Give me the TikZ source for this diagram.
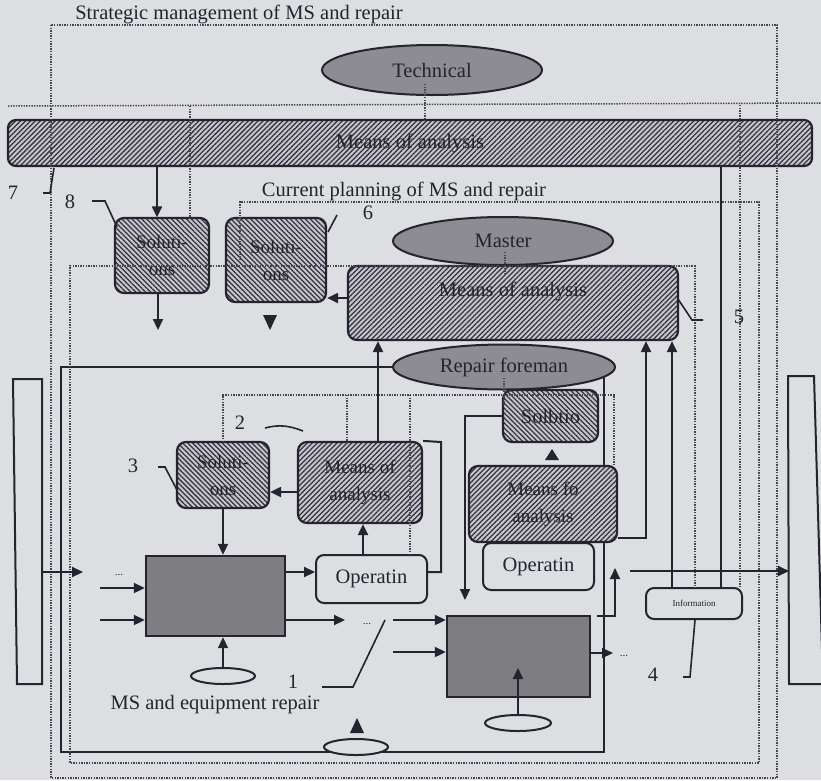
\documentclass[tikz,border=0pt]{standalone}
\usepackage{fontspec}
\setmainfont{Liberation Serif}
\usetikzlibrary{shapes.geometric,arrows.meta,patterns.meta}
\definecolor{paper}{RGB}{221,222,226}
\definecolor{ink}{RGB}{36,36,48}
\definecolor{dotink}{RGB}{70,70,82}
\definecolor{ovalgray}{RGB}{140,140,146}
\definecolor{blockgray}{RGB}{126,126,130}
\definecolor{hatchbg}{RGB}{198,198,203}
\definecolor{hatchink}{RGB}{50,50,62}
\pgfdeclarelayer{paperlayer}
\pgfdeclarelayer{under}
\pgfsetlayers{paperlayer,under,main}
\tikzset{
  wire/.style={draw=ink,line width=2pt},
  arr/.style={wire,-{Triangle[length=11pt,width=10pt]}},
  leader/.style={draw=ink,line width=1.6pt},
  dotline/.style={draw=dotink,line width=1.5pt,dash pattern=on 1.4pt off 1.2pt},
  oval/.style={ellipse,draw=ink,line width=2pt,fill=ovalgray,inner sep=0pt,text=ink},
  ring/.style={ellipse,draw=ink,line width=2pt,fill=paper,inner sep=0pt,minimum width=64pt,minimum height=16pt},
  hatchbox/.style={draw=ink,line width=2.2pt,rounded corners=9pt,preaction={fill=hatchbg},pattern color=hatchink,inner sep=2pt,align=center,text=ink},
  hatchR/.style={hatchbox,pattern={Lines[angle=45,distance=3.5pt,line width=1.25pt]}},
  hatchL/.style={hatchbox,pattern={Lines[angle=-45,distance=3.5pt,line width=1.25pt]}},
  opbox/.style={draw=ink,line width=2pt,rounded corners=8pt,fill=paper,text=ink},
  block/.style={draw=ink,line width=2.4pt,fill=blockgray},
  numlbl/.style={text=ink,inner sep=0pt},
  tinytext/.style={font=\fontsize{11}{12}\selectfont,text=ink,inner sep=0pt},
  boxfont/.style={font=\fontsize{19}{27}\selectfont},
}
\begin{document}
\begin{tikzpicture}[x=1pt,y=-1pt,font=\fontsize{20.5}{24}\selectfont]
\useasboundingbox (0,0) rectangle (821,780);
\begin{pgfonlayer}{paperlayer}
  \fill[paper] (0,0) rectangle (821,780);
\end{pgfonlayer}

% headings
\node[anchor=base,text=ink] (title) at (239,19) {Strategic management of MS and repair};
\node[anchor=base,text=ink] (curplan) at (404,196) {Current planning of MS and repair};
\node[anchor=base,text=ink] (repairlbl) at (215,709) {MS and equipment repair};

% strategic level
\node[oval,minimum width=220pt,minimum height=50pt] (tech) at (432,70) {Technical};
\node[hatchR,minimum width=804pt,minimum height=46pt,rounded corners=8pt] (bar) at (410,143) {Means of analysis};
\node[hatchL,boxfont,minimum width=94pt,minimum height=75pt] (sol8) at (162,255.5) {Soluti-\\ons};

% current planning level
\node[hatchL,boxfont,minimum width=100pt,minimum height=84pt] (sol6) at (276,260) {Soluti-\\ons};
\node[oval,minimum width=220pt,minimum height=48pt] (master) at (503,241) {Master};
\node[hatchR,minimum width=330pt,minimum height=74pt] (mean2) at (513,303) {};
\node[text=ink] (mean2t) at (513,291) {Means of analysis};

% operational level
\node[oval,minimum width=222pt,minimum height=45pt] (foreman) at (504,367) {Repair foreman};
\node[hatchL,boxfont,minimum width=92pt,minimum height=66pt] (sol3) at (223,475) {Soluti-\\ons};
\node[hatchR,boxfont,minimum width=124pt,minimum height=81pt] (mean3) at (360,482.5) {Means of\\analysis};
\node[opbox,minimum width=111pt,minimum height=48pt] (op1) at (371.5,579) {Operatin};
\node[block,minimum width=139pt,minimum height=80pt] (blk1) at (215.5,596) {};
\node[hatchL,minimum width=95pt,minimum height=52pt] (solb) at (550.5,416) {Solbtio};
\node[hatchR,boxfont,minimum width=148pt,minimum height=76pt] (meanfo) at (543,504) {Means fo\\analysis};
\node[opbox,minimum width=111pt,minimum height=47pt] (op2) at (538.5,566.5) {Operatin};
\node[block,minimum width=143pt,minimum height=81pt] (blk2) at (518.5,656.5) {};
\node[opbox,minimum width=96pt,minimum height=31pt,font=\fontsize{9}{10}\selectfont] (info) at (694,603.5) {Information};
\node[ring] (ring1) at (223,676) {};
\node[ring,minimum width=66pt] (ring2) at (518,723) {};
\node[ring] (ring3) at (356,747) {};

% frame of the operational level
\begin{pgfonlayer}{under}
  \coordinate (frameTL) at (61,367);
  \coordinate (frameBL) at (61,752);
  \coordinate (frameBR) at (604,752);
  \coordinate (frameTR) at (604,367);
  \draw[wire] (foreman.west) -- (frameTL) -- (frameBL) -- (frameBR) -- (frameTR);
\end{pgfonlayer}

% input and output stores
\draw[wire,fill=paper] (13,379) -- (42,379) -- (42,684) -- (17,684) -- cycle;
\draw[wire,fill=paper] (788,376) -- (814,376) -- (823,684) -- (789,684) -- cycle;
\coordinate (inL) at (42,572);
\coordinate (outR) at (789,571);

% information boundaries
\draw[dotline] (51,25) rectangle (777,778);
\draw[dotline] (8,106) -- (821,103);
\draw[dotline] (190,106) -- (190,218);
\draw[dotline] (425,84) -- (425,121);
\draw[dotline] (740,105) -- (740,588);
\draw[dotline] (240,263) -- (240,202) -- (759,202) -- (759,763) -- (70,763) -- (70,266) -- (695,266) -- (695,588);
\draw[dotline] (505,252) -- (505,274);
\draw[dotline] (223,442) -- (223,395) -- (614,395) -- (614,466);
\draw[dotline] (347,395) -- (347,442);
\draw[dotline] (410,395) -- (410,555);
\draw[dotline] (504,378) -- (504,405);

% helper positions
\coordinate (x157) at (157,0);
\coordinate (x672) at (672,0);
\coordinate (x721) at (721,0);
\coordinate (x378) at (378,0);
\coordinate (x363) at (363,0);
\coordinate (y298) at (0,298);
\coordinate (y492) at (0,492);
\coordinate (y572) at (0,572);

% strategic links
\draw[arr] (bar.south -| x157) -- (sol8.north -| x157);
\coordinate (sol8tip) at (158,330);
\draw[arr] (sol8.south -| sol8tip) -- (sol8tip);
\fill[ink] (270,330) -- (263,315) -- (277,315) -- cycle;
\draw[wire] (bar.south -| x721) -- (info.north -| x721);

% planning links
\draw[arr] (mean2.west |- y298) -- (sol6.east |- y298);
\draw[arr] (info.north -| x672) -- (mean2.south -| x672);
\coordinate (fo1) at (646,538);
\draw[arr] (meanfo.east |- fo1) -- (fo1) -- (mean2.south -| fo1);
\draw[arr] (mean3.north -| x378) -- (mean2.south -| x378);

% operational links, left unit
\draw[arr] (mean3.west |- y492) -- (sol3.east |- y492);
\draw[arr] (sol3.south) -- (blk1.north -| sol3.south);
\draw[arr] (blk1.east |- y572) -- (op1.west |- y572);
\draw[arr] (op1.north -| x363) -- (mean3.south -| x363);
\coordinate (loopc) at (441,442);
\draw[wire] (op1.east |- y572) -| (loopc) -- (mean3.north east);
\coordinate (tipA) at (83,572);
\draw[arr] (inL) -- (tipA);
\coordinate (srcB) at (100,588);
\draw[arr] (srcB) -- (blk1.west |- srcB);
\coordinate (srcC) at (100,620);
\draw[arr] (srcC) -- (blk1.west |- srcC);
\coordinate (tipD) at (345,620);
\draw[arr] (blk1.east |- tipD) -- (tipD);
\draw[arr] (ring1.north) -- (blk1.south -| ring1.north);

% operational links, right unit
\coordinate (srcE) at (393,620);
\draw[arr] (srcE) -- (blk2.west |- srcE);
\coordinate (srcF) at (393,652);
\draw[arr] (srcF) -- (blk2.west |- srcF);
\coordinate (tipG) at (518,668);
\draw[arr] (ring2.north) -- (tipG);
\coordinate (tipH) at (613,653);
\draw[arr] (blk2.east |- tipH) -- (tipH);
\coordinate (stH) at (597,616);
\coordinate (tipI) at (615,568);
\draw[arr] (stH) -| (tipI);
\coordinate (tipJ) at (465,600);
\draw[arr] (solb.west) -| (tipJ);
\fill[ink] (552,449) -- (545,460) -- (559,460) -- cycle;
\fill[ink] (357,718) -- (350,733) -- (364,733) -- cycle;
\coordinate (stK) at (630,571);
\draw[arr] (stK) -- (outR);

% continuation marks
\node[tinytext,anchor=base] (dA) at (119,575) {...};
\node[tinytext,anchor=base] (dB) at (367,624) {...};
\node[tinytext,anchor=base] (dC) at (624,656) {...};

% numbered callouts
\node[numlbl] (n8) at (70,202) {8};
\draw[leader] (92,201) -- (105,201) -- (117,227);
\node[numlbl] (n7) at (13,193) {7};
\draw[leader] (43,193) -- (50,193) -- (54,168);
\node[numlbl] (n6) at (368,213) {6};
\draw[leader] (328,232) -- (337,215);
\node[numlbl] (n5) at (739,317) {5};
\draw[leader] (678,299) -- (692,320) -- (703,320);
\node[numlbl] (n2) at (240,423) {2};
\draw[leader] (265,428) .. controls (280,424) and (290,426) .. (303,431);
\node[numlbl] (n3) at (133,466) {3};
\draw[leader] (158,467) -- (165,467) -- (177,490);
\node[numlbl] (n1) at (293,682) {1};
\draw[leader] (322,687) -- (353,687) -- (385,620);
\node[numlbl] (n4) at (653,675) {4};
\draw[leader] (683,677) -- (690,677) -- (695,620);
\end{tikzpicture}
\end{document}
